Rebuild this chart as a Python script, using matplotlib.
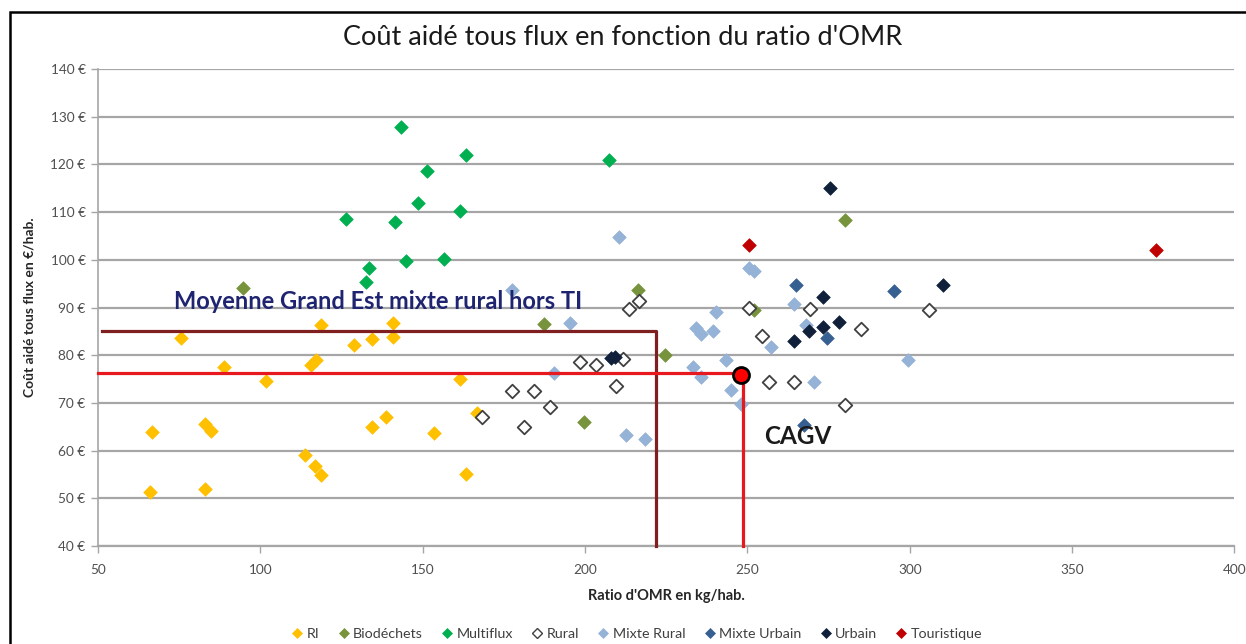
import matplotlib.pyplot as plt
from matplotlib.lines import Line2D
from matplotlib.patches import Rectangle

# données (ratio OMR kg/hab., coût €/hab.)
ri_x = [66.0, 66.6, 75.5, 82.9, 82.9, 84.7, 88.7, 101.6, 113.6, 115.7, 116.7, 117.0,
        118.6, 118.6, 128.7, 134.5, 134.5, 138.8, 140.7, 140.7, 153.6, 161.6, 163.4, 166.8]
ri_y = [51.3, 64.0, 83.7, 52.0, 65.6, 64.2, 77.6, 74.7, 59.1, 78.0, 56.8, 78.9,
        54.9, 86.4, 82.2, 65.0, 83.3, 67.1, 83.9, 86.8, 63.7, 75.1, 55.1, 67.9]

bio_x = [94.6, 187.4, 199.7, 216.3, 224.6, 251.9, 280.2]
bio_y = [94.0, 86.6, 66.1, 93.6, 80.1, 89.4, 108.3]

multi_x = [126.5, 132.4, 133.6, 141.6, 143.4, 144.7, 148.6, 151.4, 156.6, 161.6, 163.4, 207.3]
multi_y = [108.5, 95.3, 98.2, 107.9, 127.8, 99.7, 112.0, 118.6, 100.1, 110.2, 122.0, 120.9]

rural_x = [168.3, 177.5, 181.2, 184.3, 189.2, 198.4, 203.3, 209.5, 211.6, 213.5,
           216.6, 250.4, 254.4, 256.5, 264.2, 269.4, 280.2, 285.1, 306.0]
rural_y = [67.1, 72.6, 65.0, 72.4, 69.2, 78.6, 78.0, 73.6, 79.3, 89.6,
           91.3, 89.8, 84.1, 74.4, 74.4, 89.6, 69.6, 85.4, 89.4]

mr_x = [177.5, 190.4, 195.4, 210.4, 212.6, 218.4, 233.2, 234.1, 235.6, 235.6, 239.3,
        240.2, 243.3, 245.1, 247.9, 250.5, 252.0, 257.4, 264.2, 268.2, 270.6, 299.5]
mr_y = [93.6, 76.3, 86.8, 104.7, 63.3, 62.4, 77.6, 85.8, 84.5, 75.5, 85.0,
        89.0, 78.9, 72.8, 69.8, 98.3, 97.6, 81.8, 90.8, 86.4, 74.4, 78.9]

mu_x = [265.1, 267.3, 274.4, 295.2]
mu_y = [94.8, 65.4, 83.7, 93.4]

urb_x = [208.0, 209.2, 264.2, 269.1, 273.4, 273.4, 275.3, 278.3, 310.3]
urb_y = [79.5, 79.7, 82.9, 85.0, 86.0, 92.1, 115.0, 87.0, 94.8]

tour_x = [250.4, 376.0]
tour_y = [103.0, 102.0]

moyenne_x, moyenne_y = 222.0, 85.0
cagv_x, cagv_y = 248.5, 76.2

x_ticks = [50, 100, 150, 200, 250, 300, 350, 400]
y_ticks = [40, 50, 60, 70, 80, 90, 100, 110, 120, 130, 140]

plt.rcParams["font.family"] = ["Lato", "DejaVu Sans"]

fig = plt.figure(figsize=(12.46, 6.44), dpi=100)
ax = fig.add_axes([0.0787, 0.152, 0.912, 0.741])

series = [
    ("RI", ri_x, ri_y, "#FFC000", "#FFC000"),
    ("Biodéchets", bio_x, bio_y, "#77933C", "#77933C"),
    ("Multiflux", multi_x, multi_y, "#00B050", "#00B050"),
    ("Rural", rural_x, rural_y, "white", "#404040"),
    ("Mixte Rural", mr_x, mr_y, "#95B3D7", "#95B3D7"),
    ("Mixte Urbain", mu_x, mu_y, "#376092", "#376092"),
    ("Urbain", urb_x, urb_y, "#10203A", "#10203A"),
    ("Touristique", tour_x, tour_y, "#C00000", "#C00000"),
]

handles = []
for name, xs, ys, face, edge in series:
    ax.scatter(xs, ys, marker="D", s=48, c=face, edgecolors=edge,
               linewidths=1.3 if name == "Rural" else 0.5, zorder=3)
    handles.append(Line2D([], [], marker="D", ls="none", ms=5, mfc=face,
                          mec=edge, mew=1 if name == "Rural" else 0.5, label=name))

# moyenne Grand Est et CAGV
ax.plot([51.2, moyenne_x, moyenne_x], [moyenne_y, moyenne_y, 40], color="#7F1F1F",
        lw=2.3, zorder=4, clip_on=False)
ax.plot([50, cagv_x, cagv_x], [cagv_y, cagv_y, 40], color="#E8191E", lw=2.3,
        zorder=4, clip_on=False)
ax.plot(cagv_x - 0.6, cagv_y - 0.3, "o", ms=11.5, mfc="#FF0000", mec="black",
        mew=2, zorder=5)

ax.text(73.4, 91.3, "Moyenne Grand Est mixte rural hors TI", fontsize=17,
        fontweight="bold", color="#1F2470", va="center", ha="left", zorder=6)
ax.text(255.3, 62.9, "CAGV", fontsize=17.5, fontweight="bold", color="#1a1a1a",
        va="center", ha="left", zorder=6)

ax.set_xlim(50, 400)
ax.set_ylim(40, 140)
ax.set_xticks(x_ticks)
ax.set_yticks(y_ticks)
ax.set_yticklabels([f"{v} €" for v in y_ticks])
ax.yaxis.grid(True, color="#A6A6A6", lw=1.6)
ax.set_axisbelow(True)
ax.tick_params(which="major", direction="out", length=5, width=1,
               color="#A6A6A6", labelsize=9.8, labelcolor="#505050", pad=4)
ax.tick_params(axis="x", pad=8)
ax.spines["right"].set_visible(False)
ax.spines["top"].set_visible(False)
ax.spines["bottom"].set_color("#A6A6A6")
ax.spines["left"].set_color("#A6A6A6")
ax.spines["bottom"].set_linewidth(1.6)
ax.spines["left"].set_linewidth(1.2)

ax.set_xlabel("Ratio d'OMR en kg/hab.", fontsize=10.5, fontweight="bold",
              color="#262626", labelpad=9)
ax.set_ylabel("Coût aidé tous flux en €/hab.", fontsize=10, fontweight="bold",
              color="#262626", labelpad=11)

fig.text(0.5, 0.941, "Coût aidé tous flux en fonction du ratio d'OMR",
         fontsize=19.5, ha="center", va="center", color="#1a1a1a")

fig.legend(handles=handles, loc="center", bbox_to_anchor=(0.51, 0.016), ncol=8,
           frameon=False, fontsize=10.3, handletextpad=0.05, columnspacing=1.1,
           handlelength=1.2, labelcolor="#404040")

# cadre noir autour du graphique
fig.patches.append(Rectangle((10 / 1246, -0.5), 2, 1.5 - 12 / 644, fill=False,
                             ec="black", lw=1.8, transform=fig.transFigure))

fig.savefig("out.png", dpi=100)
